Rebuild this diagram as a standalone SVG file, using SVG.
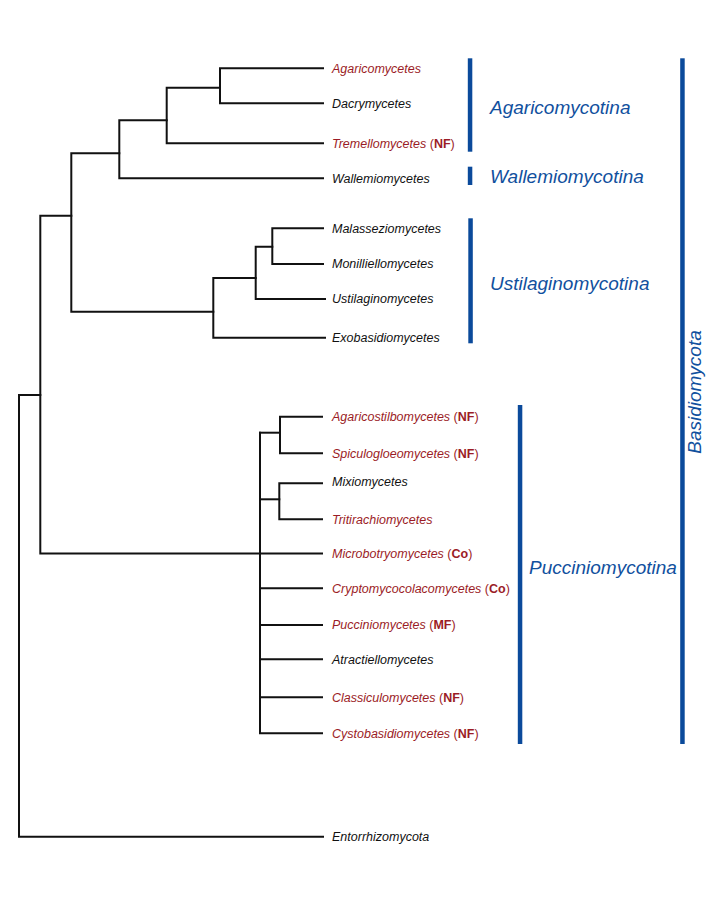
<svg xmlns="http://www.w3.org/2000/svg" width="708" height="900" viewBox="0 0 708 900">
<style>
  .br { fill: none; stroke: #111; stroke-width: 2; stroke-linecap: square; }
  .lf { font-family: "Liberation Sans", Arial, sans-serif; font-size: 12.5px; font-style: italic; fill: #111; }
  .red { fill: #9b1c26; }
  .b { font-weight: bold; font-style: normal; }
  .p { font-style: normal; }
  .bar { fill: #0b4a9b; }
  .grp { font-family: "Liberation Sans", Arial, sans-serif; font-size: 19px; font-style: italic; fill: #11509e; }
</style>
<rect width="708" height="900" fill="#fff"/>
<g id="connectors">
  <path class="br" d="M323,68.3 H220 V103.3 H323"/>
  <path class="br" d="M220,87.7 H166.7 V143.3 H323"/>
  <path class="br" d="M166.7,120.3 H119.3 V178.3 H323"/>
  <path class="br" d="M119.3,153.3 H71.3 V311.7 H213.3"/>
  <path class="br" d="M323,228.3 H272.3 V264 H323"/>
  <path class="br" d="M272.3,246.7 H255.7 V299 H325"/>
  <path class="br" d="M255.7,278 H213.3 V337.7 H325"/>
  <path class="br" d="M71.3,215.7 H40.3 V553.5 H260"/>
  <path class="br" d="M40.3,395 H19 V836.7 H323"/>
  <path class="br" d="M260,432.7 V733.3 H322"/>
  <path class="br" d="M260,432.7 H280"/>
  <path class="br" d="M322,416.7 H280 V453.3 H322"/>
  <path class="br" d="M260,499.3 H279.3"/>
  <path class="br" d="M322,483.3 H279.3 V519.3 H322"/>
  <path class="br" d="M260,553.5 H322 M260,588.3 H322 M260,625 H322 M260,659.3 H322 M260,697.3 H322"/>
</g>
<g id="leaves">
  <text id="agaricomycetes" class="lf red" x="332" y="72.5">Agaricomycetes</text>
  <text id="dacrymycetes" class="lf" x="332" y="107.5">Dacrymycetes</text>
  <text id="tremellomycetes" class="lf red" x="332" y="147.5">Tremellomycetes <tspan class="p">(</tspan><tspan class="b">NF</tspan><tspan class="p">)</tspan></text>
  <text id="wallemiomycetes" class="lf" x="332" y="182.5">Wallemiomycetes</text>
  <text id="malasseziomycetes" class="lf" x="332" y="232.5">Malasseziomycetes</text>
  <text id="monilliellomycetes" class="lf" x="332" y="268.2">Monilliellomycetes</text>
  <text id="ustilaginomycetes" class="lf" x="332" y="303.2">Ustilaginomycetes</text>
  <text id="exobasidiomycetes" class="lf" x="332" y="341.9">Exobasidiomycetes</text>
  <text id="agaricostilbomycetes" class="lf red" x="332" y="420.9">Agaricostilbomycetes <tspan class="p">(</tspan><tspan class="b">NF</tspan><tspan class="p">)</tspan></text>
  <text id="spiculogloeomycetes" class="lf red" x="332" y="457.5">Spiculogloeomycetes <tspan class="p">(</tspan><tspan class="b">NF</tspan><tspan class="p">)</tspan></text>
  <text id="mixiomycetes" class="lf" x="332" y="485.5">Mixiomycetes</text>
  <text id="tritirachiomycetes" class="lf red" x="332" y="523.5">Tritirachiomycetes</text>
  <text id="microbotryomycetes" class="lf red" x="332" y="557.7">Microbotryomycetes <tspan class="p">(</tspan><tspan class="b">Co</tspan><tspan class="p">)</tspan></text>
  <text id="cryptomycocolacomycetes" class="lf red" x="332" y="592.5">Cryptomycocolacomycetes <tspan class="p">(</tspan><tspan class="b">Co</tspan><tspan class="p">)</tspan></text>
  <text id="pucciniomycetes" class="lf red" x="332" y="629.2">Pucciniomycetes <tspan class="p">(</tspan><tspan class="b">MF</tspan><tspan class="p">)</tspan></text>
  <text id="atractiellomycetes" class="lf" x="332" y="663.5">Atractiellomycetes</text>
  <text id="classiculomycetes" class="lf red" x="332" y="701.5">Classiculomycetes <tspan class="p">(</tspan><tspan class="b">NF</tspan><tspan class="p">)</tspan></text>
  <text id="cystobasidiomycetes" class="lf red" x="332" y="737.5">Cystobasidiomycetes <tspan class="p">(</tspan><tspan class="b">NF</tspan><tspan class="p">)</tspan></text>
  <text id="entorrhizomycota" class="lf" x="332" y="840.9">Entorrhizomycota</text>
</g>
<g id="agaricomycotina">
  <rect class="bar" x="467.8" y="58.3" width="4.5" height="93.4"/>
  <text class="grp" x="490" y="113.5">Agaricomycotina</text>
</g>
<g id="wallemiomycotina">
  <rect class="bar" x="467.8" y="166.7" width="4.5" height="18.3"/>
  <text class="grp" x="490" y="183">Wallemiomycotina</text>
</g>
<g id="ustilaginomycotina">
  <rect class="bar" x="468.3" y="218.3" width="4.5" height="125"/>
  <text class="grp" x="490" y="290">Ustilaginomycotina</text>
</g>
<g id="pucciniomycotina">
  <rect class="bar" x="517.8" y="405" width="4.5" height="339"/>
  <text class="grp" x="529" y="573.5">Pucciniomycotina</text>
</g>
<g id="basidiomycota">
  <rect class="bar" x="680.2" y="58.3" width="4.5" height="685.7"/>
  <text class="grp" text-anchor="middle" transform="translate(701,392) rotate(-90)">Basidiomycota</text>
</g>
</svg>
